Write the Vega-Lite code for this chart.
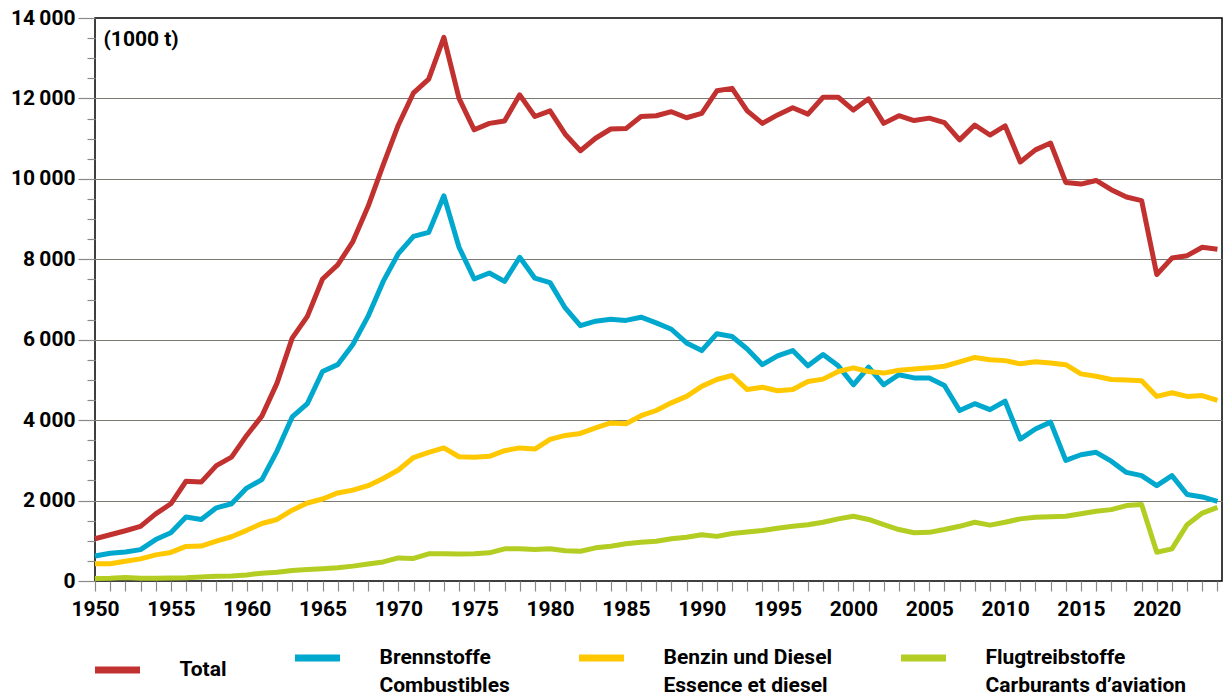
{
  "$schema": "https://vega.github.io/schema/vega-lite/v6.json",
  "width": 1127,
  "height": 563,
  "autosize": {"type": "none"},
  "padding": {"left": 95, "top": 18, "right": 8, "bottom": 115},
  "background": "white",
  "config": {
    "view": {"stroke": "#000", "strokeWidth": 1.5},
    "font": "Roboto, Liberation Sans, sans-serif"
  },
  "data": {
    "values": [
      {"year": 1950, "Total": 1050, "Brennstoffe": 620, "Benzin": 430, "Flug": 60},
      {"year": 1951, "Total": 1150, "Brennstoffe": 690, "Benzin": 430, "Flug": 70},
      {"year": 1952, "Total": 1250, "Brennstoffe": 720, "Benzin": 490, "Flug": 90},
      {"year": 1953, "Total": 1360, "Brennstoffe": 780, "Benzin": 550, "Flug": 70},
      {"year": 1954, "Total": 1670, "Brennstoffe": 1030, "Benzin": 650, "Flug": 70},
      {"year": 1955, "Total": 1920, "Brennstoffe": 1200, "Benzin": 710, "Flug": 75},
      {"year": 1956, "Total": 2480, "Brennstoffe": 1590, "Benzin": 860, "Flug": 80},
      {"year": 1957, "Total": 2460, "Brennstoffe": 1530, "Benzin": 870, "Flug": 100},
      {"year": 1958, "Total": 2870, "Brennstoffe": 1820, "Benzin": 990, "Flug": 120},
      {"year": 1959, "Total": 3080, "Brennstoffe": 1920, "Benzin": 1100, "Flug": 125},
      {"year": 1960, "Total": 3620, "Brennstoffe": 2310, "Benzin": 1260, "Flug": 150},
      {"year": 1961, "Total": 4100, "Brennstoffe": 2520, "Benzin": 1430, "Flug": 195},
      {"year": 1962, "Total": 4920, "Brennstoffe": 3230, "Benzin": 1530, "Flug": 220},
      {"year": 1963, "Total": 6040, "Brennstoffe": 4080, "Benzin": 1760, "Flug": 260},
      {"year": 1964, "Total": 6580, "Brennstoffe": 4410, "Benzin": 1940, "Flug": 285},
      {"year": 1965, "Total": 7510, "Brennstoffe": 5210, "Benzin": 2040, "Flug": 305},
      {"year": 1966, "Total": 7860, "Brennstoffe": 5380, "Benzin": 2190, "Flug": 330},
      {"year": 1967, "Total": 8440, "Brennstoffe": 5880, "Benzin": 2260, "Flug": 370},
      {"year": 1968, "Total": 9310, "Brennstoffe": 6580, "Benzin": 2370, "Flug": 425},
      {"year": 1969, "Total": 10350, "Brennstoffe": 7450, "Benzin": 2550, "Flug": 475},
      {"year": 1970, "Total": 11340, "Brennstoffe": 8140, "Benzin": 2760, "Flug": 575},
      {"year": 1971, "Total": 12140, "Brennstoffe": 8570, "Benzin": 3070, "Flug": 560},
      {"year": 1972, "Total": 12480, "Brennstoffe": 8670, "Benzin": 3200, "Flug": 675},
      {"year": 1973, "Total": 13520, "Brennstoffe": 9580, "Benzin": 3310, "Flug": 680},
      {"year": 1974, "Total": 12000, "Brennstoffe": 8300, "Benzin": 3090, "Flug": 670},
      {"year": 1975, "Total": 11220, "Brennstoffe": 7510, "Benzin": 3080, "Flug": 680},
      {"year": 1976, "Total": 11380, "Brennstoffe": 7660, "Benzin": 3100, "Flug": 700},
      {"year": 1977, "Total": 11440, "Brennstoffe": 7450, "Benzin": 3240, "Flug": 800},
      {"year": 1978, "Total": 12090, "Brennstoffe": 8050, "Benzin": 3310, "Flug": 800},
      {"year": 1979, "Total": 11550, "Brennstoffe": 7530, "Benzin": 3280, "Flug": 785},
      {"year": 1980, "Total": 11690, "Brennstoffe": 7420, "Benzin": 3520, "Flug": 800},
      {"year": 1981, "Total": 11110, "Brennstoffe": 6790, "Benzin": 3620, "Flug": 750},
      {"year": 1982, "Total": 10700, "Brennstoffe": 6350, "Benzin": 3670, "Flug": 740},
      {"year": 1983, "Total": 11010, "Brennstoffe": 6460, "Benzin": 3810, "Flug": 825},
      {"year": 1984, "Total": 11240, "Brennstoffe": 6510, "Benzin": 3930, "Flug": 865},
      {"year": 1985, "Total": 11250, "Brennstoffe": 6480, "Benzin": 3910, "Flug": 925},
      {"year": 1986, "Total": 11550, "Brennstoffe": 6560, "Benzin": 4110, "Flug": 965},
      {"year": 1987, "Total": 11570, "Brennstoffe": 6420, "Benzin": 4240, "Flug": 990},
      {"year": 1988, "Total": 11670, "Brennstoffe": 6260, "Benzin": 4430, "Flug": 1050},
      {"year": 1989, "Total": 11520, "Brennstoffe": 5920, "Benzin": 4590, "Flug": 1090},
      {"year": 1990, "Total": 11630, "Brennstoffe": 5730, "Benzin": 4840, "Flug": 1150},
      {"year": 1991, "Total": 12190, "Brennstoffe": 6150, "Benzin": 5010, "Flug": 1110},
      {"year": 1992, "Total": 12250, "Brennstoffe": 6080, "Benzin": 5110, "Flug": 1180},
      {"year": 1993, "Total": 11690, "Brennstoffe": 5770, "Benzin": 4760, "Flug": 1220},
      {"year": 1994, "Total": 11380, "Brennstoffe": 5380, "Benzin": 4820, "Flug": 1255},
      {"year": 1995, "Total": 11590, "Brennstoffe": 5600, "Benzin": 4730, "Flug": 1310},
      {"year": 1996, "Total": 11770, "Brennstoffe": 5730, "Benzin": 4760, "Flug": 1360},
      {"year": 1997, "Total": 11610, "Brennstoffe": 5350, "Benzin": 4960, "Flug": 1400},
      {"year": 1998, "Total": 12030, "Brennstoffe": 5630, "Benzin": 5020, "Flug": 1460},
      {"year": 1999, "Total": 12030, "Brennstoffe": 5350, "Benzin": 5210, "Flug": 1545},
      {"year": 2000, "Total": 11710, "Brennstoffe": 4880, "Benzin": 5300, "Flug": 1610},
      {"year": 2001, "Total": 11990, "Brennstoffe": 5320, "Benzin": 5210, "Flug": 1530},
      {"year": 2002, "Total": 11380, "Brennstoffe": 4880, "Benzin": 5170, "Flug": 1400},
      {"year": 2003, "Total": 11570, "Brennstoffe": 5130, "Benzin": 5240, "Flug": 1280},
      {"year": 2004, "Total": 11450, "Brennstoffe": 5050, "Benzin": 5270, "Flug": 1200},
      {"year": 2005, "Total": 11510, "Brennstoffe": 5050, "Benzin": 5300, "Flug": 1210},
      {"year": 2006, "Total": 11400, "Brennstoffe": 4860, "Benzin": 5340, "Flug": 1280},
      {"year": 2007, "Total": 10970, "Brennstoffe": 4240, "Benzin": 5450, "Flug": 1360},
      {"year": 2008, "Total": 11340, "Brennstoffe": 4410, "Benzin": 5560, "Flug": 1460},
      {"year": 2009, "Total": 11090, "Brennstoffe": 4260, "Benzin": 5500, "Flug": 1390},
      {"year": 2010, "Total": 11320, "Brennstoffe": 4470, "Benzin": 5480, "Flug": 1460},
      {"year": 2011, "Total": 10420, "Brennstoffe": 3530, "Benzin": 5400, "Flug": 1545},
      {"year": 2012, "Total": 10720, "Brennstoffe": 3780, "Benzin": 5450, "Flug": 1585},
      {"year": 2013, "Total": 10890, "Brennstoffe": 3950, "Benzin": 5420, "Flug": 1595},
      {"year": 2014, "Total": 9910, "Brennstoffe": 3000, "Benzin": 5380, "Flug": 1610},
      {"year": 2015, "Total": 9870, "Brennstoffe": 3140, "Benzin": 5150, "Flug": 1670},
      {"year": 2016, "Total": 9960, "Brennstoffe": 3200, "Benzin": 5090, "Flug": 1735},
      {"year": 2017, "Total": 9730, "Brennstoffe": 2980, "Benzin": 5010, "Flug": 1775},
      {"year": 2018, "Total": 9550, "Brennstoffe": 2700, "Benzin": 5000, "Flug": 1875},
      {"year": 2019, "Total": 9460, "Brennstoffe": 2620, "Benzin": 4980, "Flug": 1900},
      {"year": 2020, "Total": 7620, "Brennstoffe": 2370, "Benzin": 4590, "Flug": 715},
      {"year": 2021, "Total": 8030, "Brennstoffe": 2620, "Benzin": 4680, "Flug": 800},
      {"year": 2022, "Total": 8090, "Brennstoffe": 2150, "Benzin": 4590, "Flug": 1400},
      {"year": 2023, "Total": 8300, "Brennstoffe": 2090, "Benzin": 4610, "Flug": 1690},
      {"year": 2024, "Total": 8250, "Brennstoffe": 1980, "Benzin": 4490, "Flug": 1830}
    ]
  },
  "transform": [
    {"fold": ["Total", "Brennstoffe", "Benzin", "Flug"], "as": ["series", "value"]}
  ],
  "mark": {"type": "line", "strokeWidth": 5, "strokeJoin": "round"},
  "encoding": {
    "x": {
      "field": "year",
      "type": "quantitative",
      "scale": {"domain": [1950, 2024.3], "nice": false, "zero": false},
      "axis": {
        "title": null,
        "values": [1950,1951,1952,1953,1954,1955,1956,1957,1958,1959,1960,1961,1962,1963,1964,1965,1966,1967,1968,1969,1970,1971,1972,1973,1974,1975,1976,1977,1978,1979,1980,1981,1982,1983,1984,1985,1986,1987,1988,1989,1990,1991,1992,1993,1994,1995,1996,1997,1998,1999,2000,2001,2002,2003,2004,2005,2006,2007,2008,2009,2010,2011,2012,2013,2014,2015,2016,2017,2018,2019,2020,2021,2022,2023,2024],
        "labelExpr": "datum.value % 5 === 0 ? '' + datum.value : ''",
        "grid": false,
        "domain": false,
        "tickSize": 10,
        "tickColor": "#8a8a8a",
        "tickWidth": 1.2,
        "labelFontSize": 21,
        "labelFontWeight": "bold",
        "labelColor": "#000",
        "labelPadding": 7,
        "labelFlush": false,
        "labelOverlap": false
      }
    },
    "y": {
      "field": "value",
      "type": "quantitative",
      "scale": {"domain": [0, 14000], "nice": false},
      "axis": {
        "title": "(1000 t)",
        "titleAngle": 0,
        "titleX": 8,
        "titleY": 21,
        "titleAlign": "left",
        "titleBaseline": "middle",
        "titleFontSize": 21,
        "titleFontWeight": "bold",
        "titleColor": "#000",
        "values": [0,500,1000,1500,2000,2500,3000,3500,4000,4500,5000,5500,6000,6500,7000,7500,8000,8500,9000,9500,10000,10500,11000,11500,12000,12500,13000,13500,14000],
        "labelExpr": "datum.value % 2000 === 0 ? replace(format(datum.value, ','), ',', '\u2009') : ''",
        "grid": true,
        "gridColor": "#7a7a72",
        "gridWidth": 1.2,
        "gridOpacity": {"condition": {"test": "datum.value % 2000 === 0 && datum.value > 0 && datum.value < 14000", "value": 1}, "value": 0},
        "domain": false,
        "tickColor": "#8a8a8a",
        "tickWidth": 1.2,
        "tickSize": {"condition": {"test": "datum.value % 2000 === 0", "value": 17}, "value": 8},
        "labelFontSize": 21,
        "labelFontWeight": "bold",
        "labelColor": "#000",
        "labelPadding": 3,
        "labelFlush": false,
        "labelOverlap": false
      }
    },
    "color": {
      "field": "series",
      "type": "nominal",
      "scale": {
        "domain": ["Total", "Brennstoffe", "Benzin", "Flug"],
        "range": ["#C1312F", "#00A8CD", "#FFC800", "#B3CD22"]
      },
      "legend": {
        "title": null,
        "orient": "none",
        "legendX": -3.5,
        "legendY": 614,
        "direction": "horizontal",
        "columns": 4,
        "gridAlign": "each",
        "columnPadding": 54,
        "padding": 0,
        "symbolType": "stroke",
        "symbolSize": 2025,
        "symbolStrokeWidth": 7,
        "labelOffset": 36,
        "labelFontSize": 21,
        "labelFontWeight": "bold",
        "labelColor": "#000",
        "labelLimit": 400,
        "labelExpr": "datum.label === 'Total' ? 'Total' : datum.label === 'Brennstoffe' ? ['Brennstoffe', 'Combustibles'] : datum.label === 'Benzin' ? ['Benzin und Diesel', 'Essence et diesel'] : ['Flugtreibstoffe', 'Carburants d\u2019aviation']",
        "encode": {"labels": {"update": {"lineHeight": {"value": 28}}}}
      }
    }
  }
}
